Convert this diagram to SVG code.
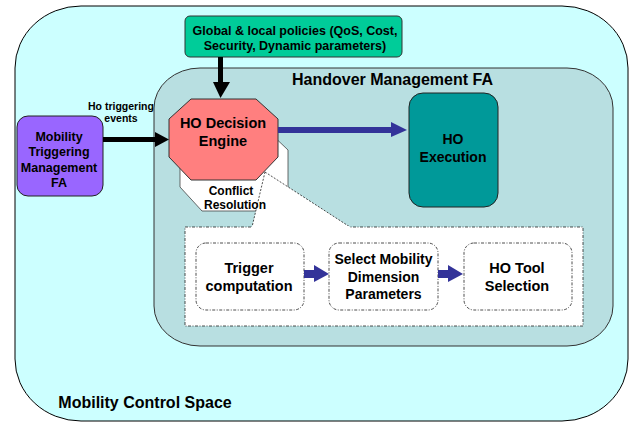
<svg xmlns="http://www.w3.org/2000/svg" width="639" height="423" viewBox="0 0 639 423">
  <style>
    text { font-family: "Liberation Sans", Arial, sans-serif; font-weight: bold; fill: #000; text-anchor: middle; }
    .dash { fill: #fff; stroke: #222; stroke-width: 0.8; stroke-dasharray: 3 1.5 1 1.5; }
    .blue { fill: #333399; }
    .black { fill: #000; }
  </style>

  <!-- outer space -->
  <g id="mobility-control-space">
    <rect x="15" y="6" width="613" height="415" rx="66" ry="62" fill="#CCFFFF" stroke="#000" stroke-width="1"/>
    <text x="145" y="408" font-size="16">Mobility Control Space</text>
  </g>

  <!-- handover management container -->
  <g id="handover-management">
    <rect x="154" y="68" width="459" height="278" rx="46" ry="40" fill="#B8DFE1" stroke="#333" stroke-width="1"/>
    <text x="392.5" y="85" font-size="16">Handover Management FA</text>
  </g>

  <!-- policy box -->
  <g id="policies">
    <rect x="185" y="16" width="217" height="41" rx="5" fill="#00CC99" stroke="#333" stroke-width="1"/>
    <text x="295" y="34.5" font-size="12.5">Global &amp; local policies (QoS, Cost,</text>
    <text x="295" y="49.5" font-size="12.5">Security, Dynamic parameters)</text>
  </g>

  <!-- mobility triggering management -->
  <g id="mobility-triggering">
    <rect x="17" y="116" width="86" height="80" rx="11" fill="#9966FF" stroke="#222" stroke-width="1"/>
    <text x="59" y="140.5" font-size="12.5">Mobility</text>
    <text x="59" y="156" font-size="12.5">Triggering</text>
    <text x="59" y="171.5" font-size="12.5">Management</text>
    <text x="59" y="186.5" font-size="12.5">FA</text>
  </g>

  <!-- conflict resolution (shadow octagon) -->
  <g id="conflict-resolution">
    <polygon points="202,130 267,130 288,150 288,187 267,211 202,211 180,187 180,150" fill="#fff" stroke="#444" stroke-width="0.8"/>
  </g>

  <!-- callout wedge and detail panel -->
  <g id="detail-panel">
    <polygon points="265,172 252,227 350,227" fill="#fff"/>
    <rect x="185" y="227" width="398" height="99" class="dash"/>
    <path d="M265,172 L252,227 M265,172 L350,227" fill="none" stroke="#222" stroke-width="0.8" stroke-dasharray="2 1.5"/>
    <rect x="252" y="226" width="97" height="2" fill="#fff"/>
  </g>

  <g id="conflict-label">
    <text x="231" y="194.5" font-size="12">Conflict</text>
    <text x="235" y="208.5" font-size="12">Resolution</text>
  </g>

  <!-- decision engine -->
  <g id="decision-engine">
    <polygon points="191,99 256,99 278,119 278,157 256,180 191,180 169,157 169,119" fill="#FF7F7F" stroke="#333" stroke-width="1"/>
    <text x="223" y="128" font-size="14.5">HO Decision</text>
    <text x="223" y="146" font-size="14.5">Engine</text>
  </g>

  <!-- execution -->
  <g id="ho-execution">
    <rect x="409" y="93" width="89" height="114" rx="14" fill="#009999" stroke="#222" stroke-width="1"/>
    <text x="453" y="144" font-size="14">HO</text>
    <text x="453" y="162" font-size="14">Execution</text>
  </g>

  <!-- detail steps -->
  <g id="trigger-computation">
    <rect x="196" y="243" width="108" height="67" rx="10" class="dash"/>
    <text x="249" y="273" font-size="14.5">Trigger</text>
    <text x="249" y="291" font-size="14.5">computation</text>
  </g>
  <g id="select-dimension">
    <rect x="329" y="243" width="109" height="67" rx="10" class="dash"/>
    <text x="383.5" y="264" font-size="14">Select Mobility</text>
    <text x="383.5" y="282" font-size="14">Dimension</text>
    <text x="383.5" y="299" font-size="14">Parameters</text>
  </g>
  <g id="tool-selection">
    <rect x="464" y="243" width="108" height="67" rx="10" class="dash"/>
    <text x="517" y="273" font-size="14.5">HO Tool</text>
    <text x="517" y="291" font-size="14.5">Selection</text>
  </g>

  <!-- connectors -->
  <g id="connectors">
    <!-- policies to engine -->
    <polygon class="black" points="218,57 223,57 223,82 230,82 220.5,98 213,82 218,82"/>
    <!-- triggering events -->
    <polygon class="black" points="103,137 155,137 155,132 169,139.5 155,147 155,142 103,142"/>
    <text x="121" y="110" font-size="10.5">Ho triggering</text>
    <text x="121" y="122" font-size="10.5">events</text>
    <!-- engine to execution -->
    <polygon class="blue" points="278,127 391,127 391,122 407,130 391,137 391,133 278,133"/>
    <!-- step arrows -->
    <polygon class="blue" points="304,270 314,270 314,265 329,274 314,282 314,278 304,278"/>
    <polygon class="blue" points="438,270 448,270 448,265 463,274 448,282 448,278 438,278"/>
  </g>
</svg>
